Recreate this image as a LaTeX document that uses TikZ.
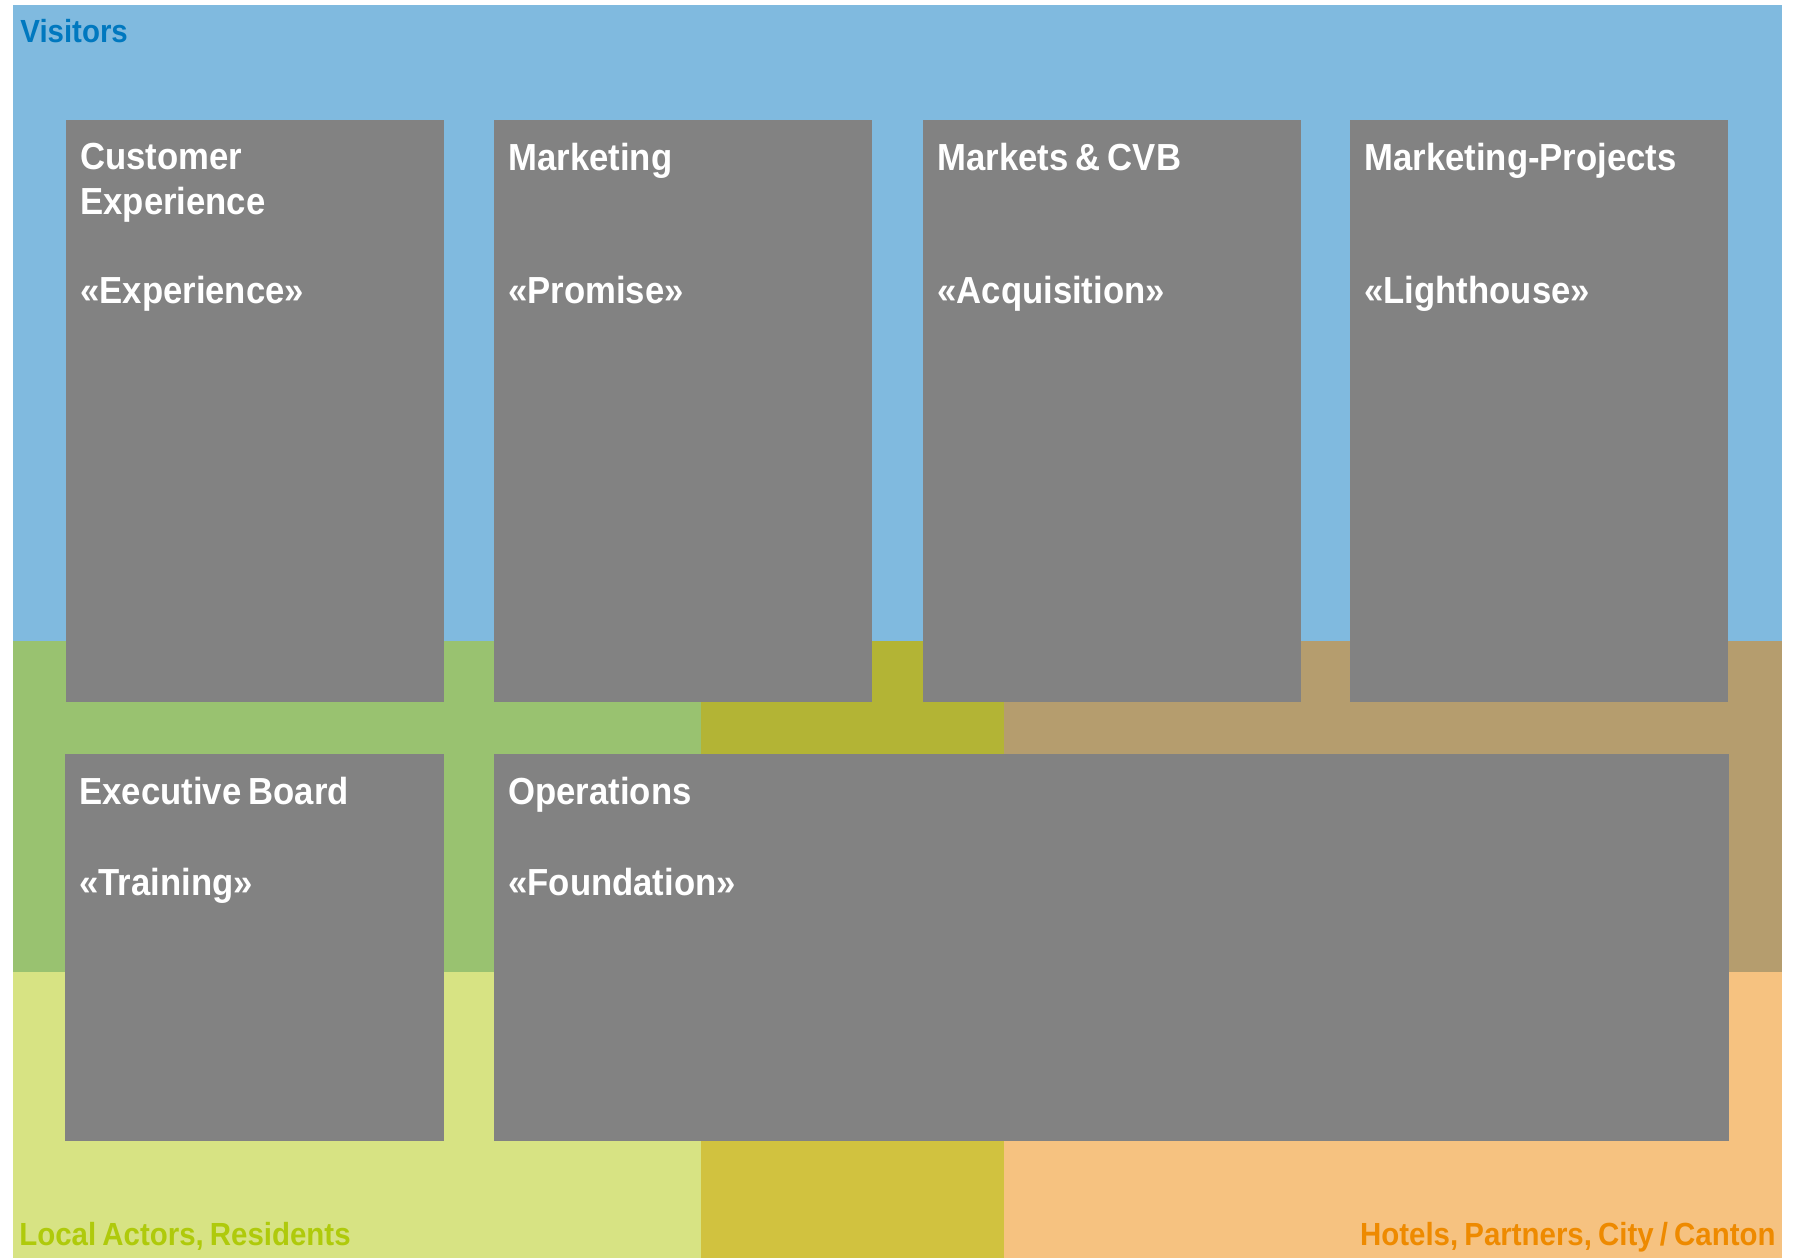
\documentclass[tikz,border=0pt]{standalone}
\usepackage{fontspec}
\setmainfont{Liberation Sans}[FakeStretch=0.92, WordSpace=0.75]
\usetikzlibrary{positioning}

\definecolor{visitorblue}{HTML}{80BADF}
\definecolor{visitorink}{HTML}{0078BF}
\definecolor{localgreen}{HTML}{D7E383}
\definecolor{localink}{HTML}{AFCA0B}
\definecolor{partnerorange}{HTML}{F6C280}
\definecolor{partnerink}{HTML}{EE8A00}
\definecolor{mixgreen}{HTML}{99C270}
\definecolor{mixolive}{HTML}{B3B435}
\definecolor{mixtan}{HTML}{B59D6E}
\definecolor{mixmustard}{HTML}{D1C23F}
\definecolor{cardgray}{HTML}{828282}

\tikzset{
  card/.style={fill=cardgray, inner sep=0pt, anchor=north west},
  cardtext/.style={text=white, font=\fontsize{18.85}{22.15}\selectfont\bfseries,
    inner sep=0pt, anchor=base west, align=left},
  zonelabel/.style={font=\fontsize{16}{19}\selectfont\bfseries, inner sep=0pt}
}

\begin{document}
\begin{tikzpicture}[x=0.5pt,y=-0.5pt]
      \useasboundingbox (0,0) rectangle (1798,1258);

      % stakeholder zones
      \fill[visitorblue] (13,5) rectangle (1782,641);
      \fill[mixgreen] (13,641) rectangle (701,972);
      \fill[mixolive] (701,641) rectangle (1004,972);
      \fill[mixtan] (1004,641) rectangle (1782,972);
      \fill[localgreen] (13,972) rectangle (701,1258);
      \fill[mixmustard] (701,972) rectangle (1004,1258);
      \fill[partnerorange] (1004,972) rectangle (1782,1258);

      \node[zonelabel, text=visitorink, anchor=base west] (visitors) at (20,42) {Visitors};
      \node[zonelabel, text=localink, anchor=base west] (locals) at (19,1245) {Local Actors, Residents};
      \node[zonelabel, text=partnerink, anchor=base east] (partners) at (1776,1245) {Hotels, Partners, City / Canton};

      % departments
      \foreach \nm/\x/\tag in {cx/66/Experience, mk/494/Promise, mc/923/Acquisition, mp/1350/Lighthouse} {
        \node[card, minimum width=189pt, minimum height=291pt] (\nm) at (\x,120) {};
        \node[cardtext] (\nm-tag) at (\x+14,303) {«\tag»};
      }

      % base of a two-line node is its last line
      \node[cardtext] (cx-title) at (80,214) {Customer\\Experience};
      \node[cardtext] (mk-title) at (508,170) {Marketing};
      \node[cardtext] (mc-title) at (937,170) {Markets \& CVB};
      \node[cardtext] (mp-title) at (1364,170) {Marketing-Projects};

      \node[card, minimum width=189.5pt, minimum height=193.5pt] (eb) at (65,754) {};
      \node[card, minimum width=617.5pt, minimum height=193.5pt] (op) at (494,754) {};

      \node[cardtext] (eb-title) at (79,804) {Executive Board};
      \node[cardtext] (eb-tag) at (79,895) {«Training»};
      \node[cardtext] (op-title) at (508,804) {Operations};
      \node[cardtext] (op-tag) at (508,895) {«Foundation»};

\end{tikzpicture}
\end{document}
